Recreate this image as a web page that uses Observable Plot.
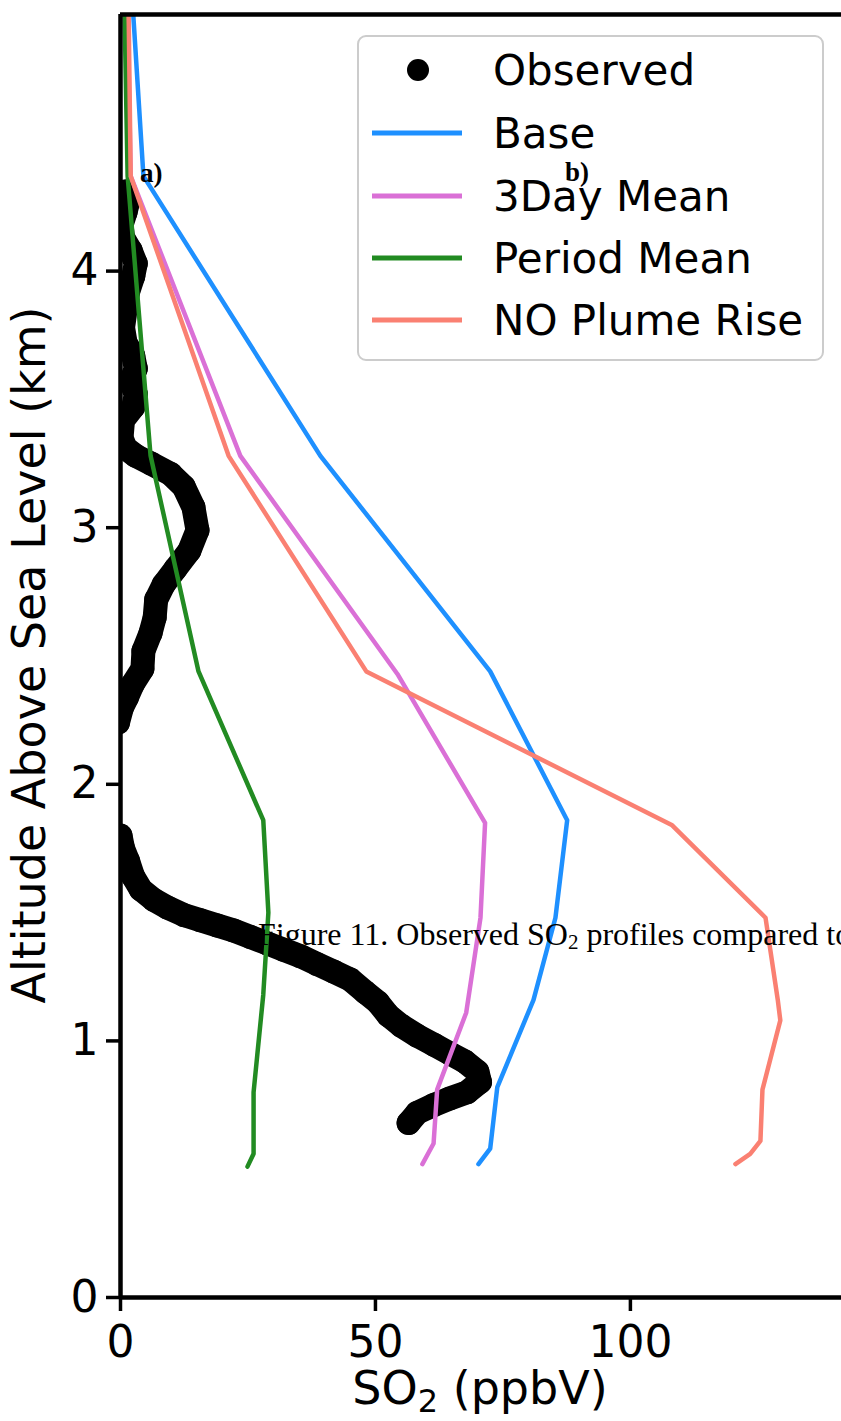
<!DOCTYPE html>
<html>
<head>
<meta charset="utf-8">
<script src="https://cdn.jsdelivr.net/npm/d3@7"></script>
<script src="https://cdn.jsdelivr.net/npm/@observablehq/plot@0.6"></script>
<style>
  body { margin: 0; background: #fff; }
  #wrap { position: relative; width: 841px; height: 1421px; overflow: hidden; background: #fff; }
</style>
</head>
<body>
<div id="wrap"></div>
<script>
// ---- Series names / colours ----
const seriesNames = ["Base", "3Day Mean", "Period Mean", "NO Plume Rise"];
const seriesColors = ["#1E90FF", "#DA70D6", "#228B22", "#FA8072"];

// ---- Model profiles (altitude km, SO2 ppbV) ----
const baseAlt = [0.52, 0.58, 0.82, 1.16, 1.48, 1.86, 2.44, 3.28, 4.37, 5.0];
const baseVal = [70.2, 72.5, 73.9, 81.0, 85.3, 87.6, 72.5, 39.2, 4.5, 2.5];

const day3Alt = [0.52, 0.60, 0.81, 1.11, 1.48, 1.85, 2.43, 3.28, 4.37, 5.0];
const day3Val = [59.2, 61.4, 62.1, 67.8, 70.6, 71.5, 54.3, 23.5, 2.0, 1.4];

const periodAlt = [0.51, 0.56, 0.80, 1.18, 1.50, 1.86, 2.44, 3.28, 4.37, 5.0];
const periodVal = [24.9, 26.1, 26.1, 28.0, 29.0, 28.0, 15.3, 5.9, 1.4, 0.8];

const noRiseAlt = [0.52, 0.56, 0.61, 0.81, 1.08, 1.16, 1.48, 1.84, 2.44, 3.28, 4.37, 5.0];
const noRiseVal = [120.6, 123.5, 125.5, 125.9, 129.4, 128.9, 126.5, 108.2, 48.2, 21.2, 2.0, 1.6];

// ---- Observed profile (two visible pieces) ----
const obsLowVal = [56.5, 58.2, 61.4, 64.5, 68.0, 70.5, 70.0, 67.5, 64.7, 61.5, 58.2, 55.0, 52.5, 50.5, 48.0, 45.0, 41.8, 38.5, 35.3, 32.0, 28.8, 25.5, 22.2, 19.0, 15.7, 12.5, 9.2, 6.5, 4.0, 2.5, 1.5, 0.5, 0.0];
const obsLowAlt = [0.68, 0.72, 0.75, 0.775, 0.80, 0.84, 0.88, 0.92, 0.95, 0.985, 1.02, 1.06, 1.10, 1.15, 1.19, 1.24, 1.27, 1.30, 1.33, 1.355, 1.38, 1.405, 1.43, 1.45, 1.47, 1.49, 1.52, 1.55, 1.59, 1.64, 1.70, 1.75, 1.80];
const obsHighVal = [-0.5, 0.3, 1.3, 2.4, 4.3, 4.5, 5.9, 6.7, 7.0, 8.5, 10.8, 13.5, 15.1, 14.3, 12.4, 9.8, 6.0, 3.0, 1.0, 0.2, 0.5, 2.5, 3.0, 2.0, 3.0, 2.5, 1.0, 0.5, 1.0, 1.5, 2.5, 3.0, 2.0, 0.5, 0.2, 1.0, 1.5, 1.0];
const obsHighAlt = [2.24, 2.30, 2.34, 2.39, 2.45, 2.52, 2.59, 2.65, 2.72, 2.78, 2.84, 2.91, 2.99, 3.08, 3.16, 3.21, 3.25, 3.28, 3.31, 3.35, 3.42, 3.47, 3.52, 3.57, 3.62, 3.67, 3.72, 3.78, 3.85, 3.92, 3.98, 4.03, 4.08, 4.13, 4.18, 4.23, 4.27, 4.31];

// ---- Axis ticks / labels ----
const xTicks = [0, 50, 100];
const yTicks = [0, 1, 2, 3, 4];
const xDomain = [0, 141.4];
const yDomain = [0, 5.0];

// ---- build tables ----
const models = [];
[[baseAlt, baseVal], [day3Alt, day3Val], [periodAlt, periodVal], [noRiseAlt, noRiseVal]].forEach(([a, v], i) => {
  a.forEach((alt, j) => models.push({name: seriesNames[i], alt, val: v[j]}));
});
const obs = [];
obsLowAlt.forEach((alt, j) => obs.push({seg: "low", alt, val: obsLowVal[j]}));
obsHighAlt.forEach((alt, j) => obs.push({seg: "high", alt, val: obsHighVal[j]}));

const chart = Plot.plot({
  width: 841,
  height: 1421,
  marginLeft: 120,
  marginRight: 0,
  marginTop: 14,
  marginBottom: 124,
  style: {fontFamily: "DejaVu Sans", fontSize: "44px", color: "black", background: "white", overflow: "hidden"},
  x: {domain: xDomain},
  y: {domain: yDomain},
  color: {domain: seriesNames, range: seriesColors},
  marks: [
    Plot.line(obs, {x: "val", y: "alt", z: "seg", stroke: "black", strokeWidth: 24, strokeLinecap: "round", strokeLinejoin: "round", clip: true}),
    Plot.dot(obs, {x: "val", y: "alt", r: 12, fill: "black", stroke: null, clip: true}),
    Plot.line(models, {x: "val", y: "alt", z: "name", stroke: "name", strokeWidth: 4.5, clip: true}),
    Plot.axisX({ticks: xTicks, tickFormat: d => String(d), tickSize: 14, tickPadding: 14, strokeWidth: 3.5, label: null, fontSize: 44}),
    Plot.axisY({ticks: yTicks, tickFormat: d => String(d), tickSize: 14, tickPadding: 8, strokeWidth: 3.5, label: null, fontSize: 44}),
    Plot.ruleX([0], {strokeWidth: 4.5}),
    Plot.ruleY([0, 5], {strokeWidth: 4.5})
  ]
});

document.getElementById("wrap").appendChild(chart);

// ---- Axis titles, legend and overlaid page text ----
const svg = d3.select(chart);

svg.append("text")
  .attr("transform", "translate(45,655) rotate(-90)")
  .attr("text-anchor", "middle")
  .attr("font-family", "DejaVu Sans").attr("font-size", 46).attr("fill", "black")
  .text("Altitude Above Sea Level (km)");

const xl = svg.append("text")
  .attr("x", 480).attr("y", 1404)
  .attr("text-anchor", "middle")
  .attr("font-family", "DejaVu Sans").attr("font-size", 46).attr("fill", "black");
xl.append("tspan").text("SO");
xl.append("tspan").attr("font-size", 32).attr("dy", 8).text("2");
xl.append("tspan").attr("dy", -8).text(" (ppbV)");

// legend
const lg = svg.append("g").attr("text-anchor", "start");
lg.append("rect").attr("x", 358).attr("y", 36).attr("width", 465).attr("height", 324)
  .attr("rx", 8).attr("fill", "white").attr("fill-opacity", 0.8)
  .attr("stroke", "#cccccc").attr("stroke-width", 2);
const rowY = [70, 133, 196, 258, 320];
lg.append("circle").attr("cx", 418).attr("cy", rowY[0]).attr("r", 11).attr("fill", "black");
lg.append("text").attr("x", 493).attr("y", rowY[0]).attr("dy", "0.36em").attr("text-anchor", "start")
  .attr("font-family", "DejaVu Sans").attr("font-size", 42).text("Observed");
seriesNames.forEach((n, i) => {
  const y = rowY[i + 1];
  lg.append("line").attr("x1", 372).attr("x2", 462).attr("y1", y).attr("y2", y)
    .attr("stroke", seriesColors[i]).attr("stroke-width", 5);
  lg.append("text").attr("x", 493).attr("y", y).attr("dy", "0.36em").attr("text-anchor", "start")
    .attr("font-family", "DejaVu Sans").attr("font-size", 42).text(n);
});

// stray page text overlapping the figure
const page = svg.append("g").attr("text-anchor", "start").attr("fill", "black");
page.append("text").attr("x", 140).attr("y", 182).attr("text-anchor", "start")
  .attr("font-family", "Liberation Serif").attr("font-weight", "bold").attr("font-size", 27).text("a)");
page.append("text").attr("x", 565).attr("y", 181).attr("text-anchor", "start")
  .attr("font-family", "Liberation Serif").attr("font-weight", "bold").attr("font-size", 27).text("b)");
const cap = page.append("text").attr("x", 258).attr("y", 945).attr("text-anchor", "start")
  .attr("font-family", "Liberation Serif").attr("font-size", 32);
cap.append("tspan").text("Figure 11. Observed SO");
cap.append("tspan").attr("font-size", 21).attr("dy", 4).text("2");
cap.append("tspan").attr("dy", -4).text(" profiles compared to the model");
</script>
</body>
</html>
